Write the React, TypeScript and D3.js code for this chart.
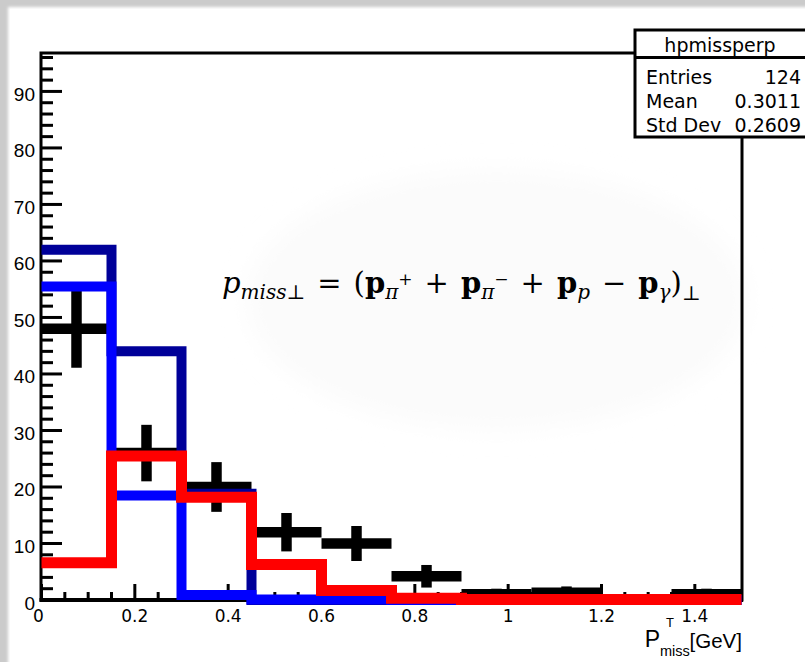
import React from 'react';
import * as d3 from 'd3';

// ---- data ----
const binEdges = [0, 0.15, 0.3, 0.45, 0.6, 0.75, 0.9, 1.05, 1.2, 1.35, 1.5];
const dataCounts = [48, 26, 20, 12, 10, 4.2, 1, 1.3, 0, 1];
const dataErrors = [6.9, 5.0, 4.4, 3.4, 3.1, 2, 1, 1.1, 0, 1];
const navyValues = [62, 44, 18.8, 0, 0, 0, 0, 0, 0, 0];
const blueValues = [55.5, 18.5, 0.9, 0.1, 0.1, 0, 0, 0, 0, 0];
const redValues = [6.6, 25.5, 18.2, 6.3, 1.7, 0.3, 0.1, 0.1, 0.1, 0.1];
const xTickValues = [0, 0.2, 0.4, 0.6, 0.8, 1, 1.2, 1.4];
const xTickLabels = ['0', '0.2', '0.4', '0.6', '0.8', '1', '1.2', '1.4'];
const yTickValues = [0, 10, 20, 30, 40, 50, 60, 70, 80, 90];
const yTickLabels = ['0', '10', '20', '30', '40', '50', '60', '70', '80', '90'];
const statsTitle = 'hpmissperp';
const statsLabels = ['Entries', 'Mean', 'Std Dev'];
const statsValues = ['124', '0.3011', '0.2609'];

const SANS = '"Liberation Sans", Arial, Helvetica, sans-serif';
const WIDE = '"DejaVu Sans", "Liberation Sans", sans-serif';
const SERIF = '"DejaVu Serif", "Liberation Serif", serif';

export default function App() {
  const W = 805;
  const H = 662;
  const x = d3.scaleLinear().domain([0, 1.5]).range([41.5, 741.5]);
  const y = d3.scaleLinear().domain([0, 96.8]).range([600, 53]);

  const stepPath = (vals: number[]) => {
    const pts: [number, number][] = [];
    vals.forEach((v, i) => {
      pts.push([binEdges[i], v]);
      pts.push([binEdges[i + 1], v]);
    });
    return d3
      .line<[number, number]>()
      .x((d) => x(d[0]))
      .y((d) => y(d[1]))(pts) as string;
  };

  const xMinor = d3.range(0, 31).map((i) => ({ v: i * 0.05, major: i % 4 === 0 }));
  const yMinor = d3.range(0, 49).map((i) => ({ v: i * 2, major: i % 5 === 0 }));

  const sp = 12;

  return (
    <svg
      width={W}
      height={H}
      style={{ position: 'absolute', left: 0, top: 0, display: 'block' }}
    >
      <defs>
        <filter id="edgeBlur" x="-5%" y="-5%" width="110%" height="110%">
          <feGaussianBlur stdDeviation="1.5" />
        </filter>
        <filter id="ellBlur" x="-30%" y="-30%" width="160%" height="160%">
          <feGaussianBlur stdDeviation="12" />
        </filter>
      </defs>
      {/* background */}
      <rect x={0} y={0} width={W} height={H} fill="#cbcbcb" />
      <rect x={8} y={7} width={W + 20} height={H + 20} fill="#ffffff" filter="url(#edgeBlur)" />
      <rect x={10} y={9} width={W} height={H} fill="#ffffff" />

      {/* faint ellipse behind formula */}
      <ellipse cx={497} cy={300} rx={250} ry={130} fill="#fbfbfb" filter="url(#ellBlur)" />

      {/* axes ticks */}
      {xMinor.map((t, i) => (
        <line
          key={'xt' + i}
          x1={x(t.v)}
          x2={x(t.v)}
          y1={600}
          y2={t.major ? 584 : 592}
          stroke="#000"
          strokeWidth={3}
        />
      ))}
      {yMinor.map((t, i) => (
        <line
          key={'yt' + i}
          x1={41}
          x2={t.major ? 62 : 53}
          y1={y(t.v)}
          y2={y(t.v)}
          stroke="#000"
          strokeWidth={3}
        />
      ))}
      {/* frame */}
      <rect x={41} y={53} width={701} height={547} fill="none" stroke="#000" strokeWidth={3} />
      <line x1={39.5} x2={743} y1={600} y2={600} stroke="#000" strokeWidth={4} />

      {/* tick labels */}
      {yTickValues.map((v, i) => (
        <text
          key={'yl' + i}
          x={35}
          y={y(v) + 9.5}
          textAnchor="end"
          fontFamily={SANS}
          fontSize={19}
          fill="#000"
        >
          {yTickLabels[i]}
        </text>
      ))}
      {xTickValues.map((v, i) => (
        <text
          key={'xl' + i}
          x={i === 0 ? x(v) - 3 : x(v)}
          y={622}
          textAnchor="middle"
          fontFamily={WIDE}
          fontSize={17}
          fill="#000"
        >
          {xTickLabels[i]}
        </text>
      ))}

      {/* data crosses */}
      {dataCounts.map((c, i) => {
        if (c <= 0) return null;
        const cx = x((binEdges[i] + binEdges[i + 1]) / 2);
        return (
          <g key={'d' + i} stroke="#000" strokeWidth={10.5}>
            <line x1={x(binEdges[i])} x2={x(binEdges[i + 1])} y1={y(c)} y2={y(c)} />
            <line x1={cx} x2={cx} y1={y(c + dataErrors[i])} y2={y(c - dataErrors[i])} />
          </g>
        );
      })}

      {/* histograms */}
      <path d={stepPath(navyValues)} fill="none" stroke="#000099" strokeWidth={10} strokeLinejoin="miter" />
      <path d={stepPath(blueValues)} fill="none" stroke="#0000ff" strokeWidth={10} strokeLinejoin="miter" />
      <path d={stepPath(redValues)} fill="none" stroke="#ff0000" strokeWidth={11} strokeLinejoin="miter" />

      {/* formula */}
      <text x={222} y={293} fontFamily={SERIF} fontSize={29} fill="#000">
        <tspan fontStyle="italic">p</tspan>
        <tspan fontStyle="italic" fontSize={20} dy={6}>miss</tspan>
        <tspan fontSize={20}>⊥</tspan>
        <tspan dy={-6} dx={sp}>=</tspan>
        <tspan dx={sp}>(</tspan>
        <tspan fontWeight="bold">p</tspan>
        <tspan fontStyle="italic" fontSize={20} dy={6}>π</tspan>
        <tspan fontSize={17} dy={-14}>+</tspan>
        <tspan dy={8} dx={sp}>+</tspan>
        <tspan dx={sp} fontWeight="bold">p</tspan>
        <tspan fontStyle="italic" fontSize={20} dy={6}>π</tspan>
        <tspan fontSize={17} dy={-14}>−</tspan>
        <tspan dy={8} dx={sp}>+</tspan>
        <tspan dx={sp} fontWeight="bold">p</tspan>
        <tspan fontStyle="italic" fontSize={20} dy={6}>p</tspan>
        <tspan dy={-6} dx={sp}>−</tspan>
        <tspan dx={sp} fontWeight="bold">p</tspan>
        <tspan fontStyle="italic" fontSize={20} dy={6}>γ</tspan>
        <tspan dy={-6}>)</tspan>
        <tspan fontSize={20} dy={7}>⊥</tspan>
      </text>

      {/* x-axis title */}
      <text x={660} y={647} textAnchor="end" fontFamily={SANS} fontSize={23} fill="#000">P</text>
      <text x={666} y={627} fontFamily={SANS} fontSize={13} fill="#000">T</text>
      <text x={660} y={656} fontFamily={SANS} fontSize={14.5} fill="#000">miss</text>
      <text x={742} y={648} textAnchor="end" fontFamily={SANS} fontSize={20.5} fill="#000">[GeV]</text>

      {/* stats box */}
      <rect x={635} y={30} width={200} height={107} fill="#fff" stroke="#000" strokeWidth={3} />
      <line x1={635} x2={805} y1={57.5} y2={57.5} stroke="#000" strokeWidth={3} />
      <text x={720} y={52} textAnchor="middle" fontFamily={WIDE} fontSize={19} fill="#000">
        {statsTitle}
      </text>
      {statsLabels.map((s, i) => (
        <g key={'st' + i}>
          <text x={646} y={83.5 + i * 24} fontFamily={WIDE} fontSize={19} fill="#000">
            {s}
          </text>
          <text x={801} y={83.5 + i * 24} textAnchor="end" fontFamily={WIDE} fontSize={19} fill="#000">
            {statsValues[i]}
          </text>
        </g>
      ))}
    </svg>
  );
}
